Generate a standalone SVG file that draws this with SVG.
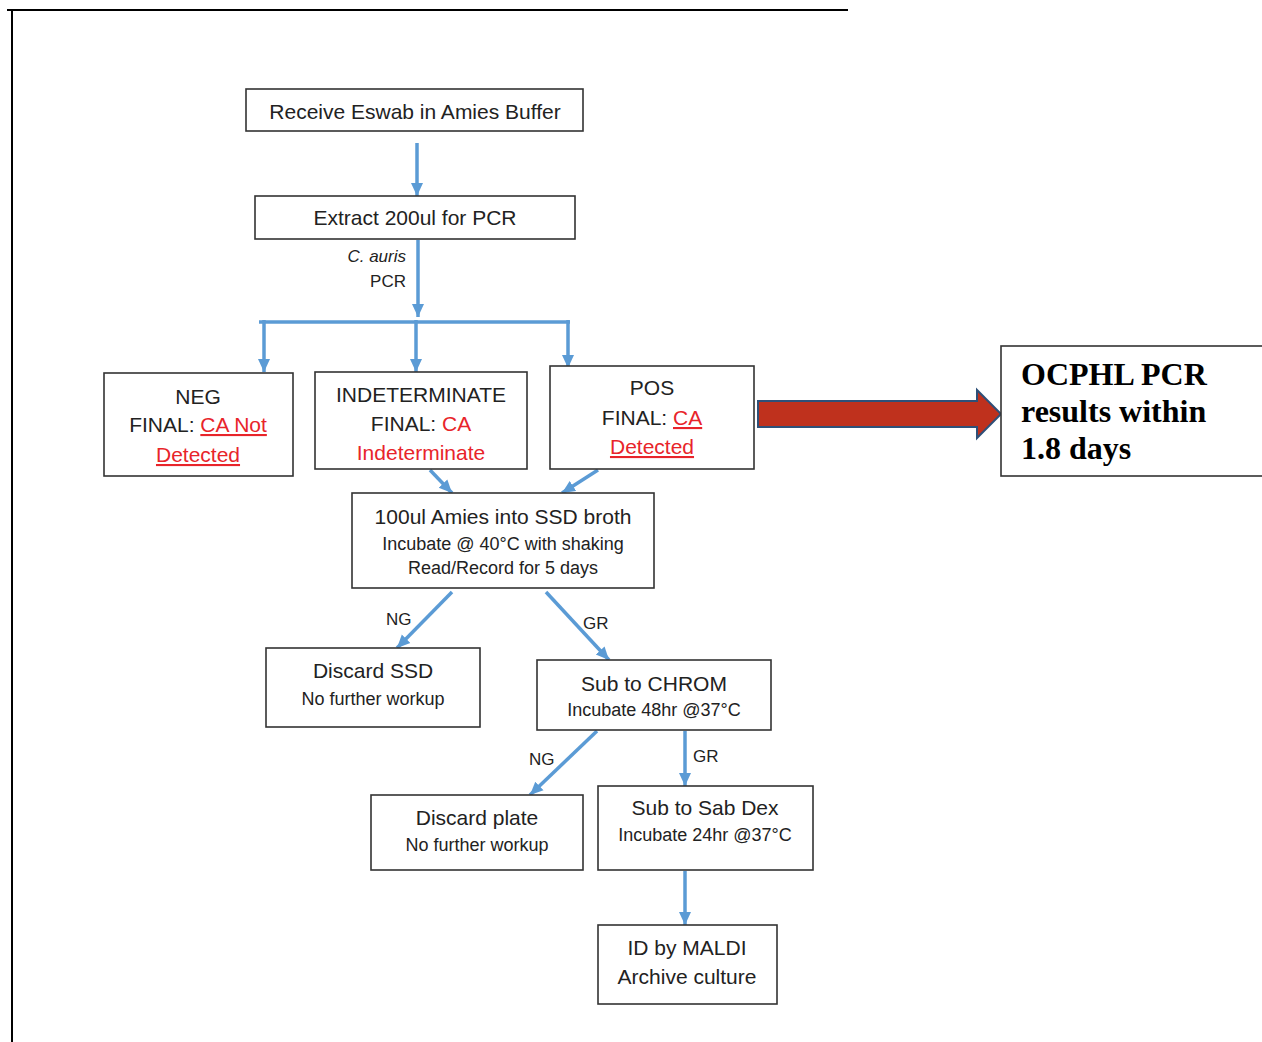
<svg xmlns="http://www.w3.org/2000/svg" width="1262" height="1042" viewBox="0 0 1262 1042">
<defs>
<style>
.box{fill:#fff;stroke:#333;stroke-width:1.6}
.t{font-family:"Liberation Sans",Arial,sans-serif;font-size:21px;fill:#222;text-anchor:middle}
.s{font-family:"Liberation Sans",Arial,sans-serif;font-size:18px;fill:#222;text-anchor:middle}
.red{fill:#e8242a}
.u{text-decoration:underline}
.c{fill:none;stroke:#5b9bd5;stroke-width:3.5}
.lbl{font-family:"Liberation Sans",Arial,sans-serif;font-size:17px;fill:#222}
.big{font-family:"Liberation Serif","Times New Roman",serif;font-size:32px;font-weight:bold;fill:#000}
</style>
<marker id="ah" markerUnits="userSpaceOnUse" markerWidth="14" markerHeight="14" viewBox="0 0 14 14" refX="13" refY="7" orient="auto">
<path d="M0,1 L13,7 L0,13 Z" fill="#5b9bd5"/>
</marker>
</defs>
<rect width="1262" height="1042" fill="#fff"/>
<path d="M7,10 H848 M12,10 V1042" fill="none" stroke="#000" stroke-width="2"/>

<g id="connectors">
<line class="c" x1="417" y1="143" x2="417" y2="196" marker-end="url(#ah)"/>
<line class="c" x1="418" y1="240" x2="418" y2="317" marker-end="url(#ah)"/>
<line class="c" x1="259" y1="322" x2="570" y2="322" stroke-width="4"/>
<line class="c" x1="264" y1="320" x2="264" y2="372" marker-end="url(#ah)"/>
<line class="c" x1="416" y1="320" x2="416" y2="372" marker-end="url(#ah)"/>
<line class="c" x1="568" y1="320" x2="568" y2="368" marker-end="url(#ah)"/>
<line class="c" x1="430" y1="470" x2="452" y2="493" marker-end="url(#ah)"/>
<line class="c" x1="598" y1="470" x2="562" y2="493" marker-end="url(#ah)"/>
<line class="c" x1="452" y1="592" x2="397" y2="648" marker-end="url(#ah)"/>
<line class="c" x1="546" y1="592" x2="609" y2="660" marker-end="url(#ah)"/>
<line class="c" x1="597" y1="731" x2="530" y2="795" marker-end="url(#ah)"/>
<line class="c" x1="685" y1="731" x2="685" y2="786" marker-end="url(#ah)"/>
<line class="c" x1="685" y1="871" x2="685" y2="925" marker-end="url(#ah)"/>
<text class="lbl" x="406" y="262" text-anchor="end" font-style="italic">C. auris</text>
<text class="lbl" x="406" y="287" text-anchor="end">PCR</text>
<text class="lbl" x="386" y="625">NG</text>
<text class="lbl" x="583" y="629">GR</text>
<text class="lbl" x="529" y="765">NG</text>
<text class="lbl" x="693" y="762">GR</text>
<path d="M758,401 H977 V390 L1001,414 L977,438 V427 H758 Z" fill="#bf311d" stroke="#2e5078" stroke-width="2"/>
</g>

<g id="receive">
<rect class="box" x="246" y="89" width="337" height="42"/>
<text class="t" x="415" y="119">Receive Eswab in Amies Buffer</text>
</g>
<g id="extract">
<rect class="box" x="255" y="196" width="320" height="43"/>
<text class="t" x="415" y="225">Extract 200ul for PCR</text>
</g>
<g id="neg">
<rect class="box" x="104" y="373" width="189" height="103"/>
<text class="t" x="198" y="404">NEG</text>
<text class="t" x="198" y="432">FINAL: <tspan class="red u">CA Not</tspan></text>
<text class="t red u" x="198" y="462">Detected</text>
</g>
<g id="indeterminate">
<rect class="box" x="315" y="372" width="212" height="97"/>
<text class="t" x="421" y="402">INDETERMINATE</text>
<text class="t" x="421" y="431">FINAL: <tspan class="red">CA</tspan></text>
<text class="t red" x="421" y="460">Indeterminate</text>
</g>
<g id="pos">
<rect class="box" x="550" y="366" width="204" height="103"/>
<text class="t" x="652" y="395">POS</text>
<text class="t" x="652" y="425">FINAL: <tspan class="red u">CA</tspan></text>
<text class="t red u" x="652" y="454">Detected</text>
</g>
<g id="ssd">
<rect class="box" x="352" y="493" width="302" height="95"/>
<text class="t" x="503" y="524">100ul Amies into SSD broth</text>
<text class="s" x="503" y="550">Incubate @ 40°C with shaking</text>
<text class="s" x="503" y="574">Read/Record for 5 days</text>
</g>
<g id="discard-ssd">
<rect class="box" x="266" y="648" width="214" height="79"/>
<text class="t" x="373" y="678">Discard SSD</text>
<text class="s" x="373" y="705">No further workup</text>
</g>
<g id="chrom">
<rect class="box" x="537" y="660" width="234" height="70"/>
<text class="t" x="654" y="691">Sub to CHROM</text>
<text class="s" x="654" y="716">Incubate 48hr @37°C</text>
</g>
<g id="discard-plate">
<rect class="box" x="371" y="795" width="212" height="75"/>
<text class="t" x="477" y="825">Discard plate</text>
<text class="s" x="477" y="851">No further workup</text>
</g>
<g id="sabdex">
<rect class="box" x="598" y="786" width="215" height="84"/>
<text class="t" x="705" y="815">Sub to Sab Dex</text>
<text class="s" x="705" y="841">Incubate 24hr @37°C</text>
</g>
<g id="maldi">
<rect class="box" x="598" y="925" width="179" height="79"/>
<text class="t" x="687" y="955">ID by MALDI</text>
<text class="t" x="687" y="984">Archive culture</text>
</g>
<g id="ocphl">
<rect class="box" x="1001" y="346" width="270" height="130" stroke="#555"/>
<text class="big" x="1021" y="385">OCPHL PCR</text>
<text class="big" x="1021" y="422">results within</text>
<text class="big" x="1021" y="459">1.8 days</text>
</g>
</svg>
